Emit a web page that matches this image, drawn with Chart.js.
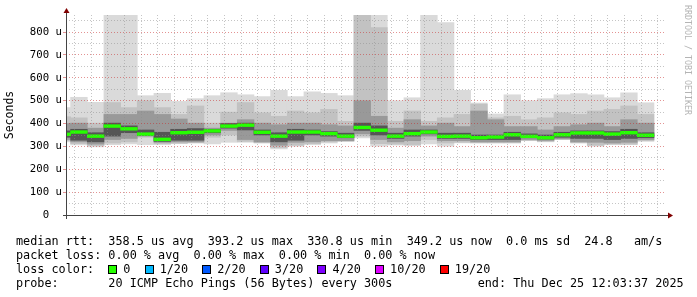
<!DOCTYPE html>
<html>
<head>
<meta charset="utf-8">
<script src="https://cdn.jsdelivr.net/npm/chart.js@4.4.1/dist/chart.umd.min.js"></script>
<style>
  html, body { margin: 0; padding: 0; background: #fff; }
  #wrap { position: relative; width: 697px; height: 297px; overflow: hidden; background: #fff; }
  #chart { position: absolute; left: 0; top: 0; }
  .legend { position: absolute; left: 16px; top: 234px; font-family: "DejaVu Sans Mono", monospace; font-size: 11.8px; line-height: 14px; white-space: pre; color: #000; }
  .sq { display: inline-block; width: 7px; height: 7px; border: 1px solid #000; margin-right: 6px; vertical-align: -1px; }
  .lc { margin-right: 14.2px; }
  #mark { position: absolute; left: 683px; top: 5px; writing-mode: vertical-rl; font-family: "DejaVu Sans Mono", monospace; font-size: 8.3px; color: #b4b4b4; }
</style>
</head>
<body>
<div id="wrap">
  <canvas id="chart" width="697" height="235"></canvas>
  <div id="mark">RRDTOOL / TOBI OETIKER</div>
  <div class="legend" id="legend"></div>
</div>
<script>
// 5 minute slots, 20 pings each (values in microseconds)
const slotStart = ["09:00","09:05","09:10","09:15","09:20","09:25","09:30","09:35","09:40","09:45","09:50","09:55",
                   "10:00","10:05","10:10","10:15","10:20","10:25","10:30","10:35","10:40","10:45","10:50","10:55",
                   "11:00","11:05","11:10","11:15","11:20","11:25","11:30","11:35","11:40","11:45","11:50","11:55"];
const pingMedian  = [353,363,345,389,377,354,331,360,362,368,389,393,362,345,363,363,356,345,383,371,345,356,363,344,345,338,341,351,344,338,351,359,359,354,360,349];
const pingMax     = [470,515,493,876,876,522,532,497,509,522,535,526,518,545,518,539,532,522,876,876,500,513,876,842,545,490,442,526,500,509,526,531,526,513,535,491];
const band2Top    = [430,425,402,492,470,500,470,440,477,402,450,492,447,432,455,447,462,410,876,820,410,455,410,425,440,485,425,432,417,425,447,440,455,462,477,440];
const band3Top    = [400,402,380,440,440,455,440,420,402,380,402,417,402,395,402,402,395,390,500,432,380,417,390,402,387,455,417,387,387,372,387,395,402,387,417,402];
const coreTop     = [368,375,360,402,390,372,362,375,378,375,400,402,372,360,375,372,365,358,402,390,358,372,372,358,358,350,350,362,355,350,362,368,368,365,375,360];
const coreBottom  = [340,327,320,345,360,348,322,327,327,360,380,372,350,320,327,350,345,338,370,350,335,345,355,335,335,330,330,330,338,332,340,335,335,330,335,338];
const band3Bottom = [330,320,310,330,335,345,318,320,320,350,370,330,320,305,318,320,325,325,355,330,320,325,345,325,325,320,320,320,330,326,333,320,318,315,318,330];
const band2Bottom = [325,312,304,315,320,340,312,314,316,340,350,322,316,295,305,312,320,323,345,312,310,308,330,315,318,316,316,316,326,322,331,316,305,310,310,325];
const pingMin     = [320,307,298,308,311,308,308,312,315,311,318,318,315,289,301,308,315,322,337,301,306,303,311,301,315,315,315,315,325,320,330,315,301,308,308,322];

const windowStart = "09:03:37";
const windowEnd = "12:03:37";
const yMax = 875;

const lossColors = ["#26ff00","#00b8ff","#0059ff","#5e00ff","#7e00ff","#dd00ff","#ff0000"];
const lossLabels = ["0","1/20","2/20","3/20","4/20","10/20","19/20"];

const MONO = "'DejaVu Sans Mono', monospace";
const GRID_MINOR = "rgba(140,140,140,0.5)";
const GRID_MAJOR = "rgba(200,40,40,0.5)";

// minutes after 09:00
function toMin(t) {
  const p = t.split(":").map(Number);
  return (p[0] - 9) * 60 + p[1] + (p[2] || 0) / 60;
}
function fmtMin(m) {
  const h = 9 + Math.floor(m / 60);
  return String(h).padStart(2, "0") + ":" + String(m % 60).padStart(2, "0");
}

function band(lo, hi, color) {
  return {
    data: slotStart.map((t, i) => ({ x: toMin(t) + 2.5, y: [lo[i], hi[i]] })),
    backgroundColor: color,
    borderWidth: 0,
    barPercentage: 1,
    categoryPercentage: 1,
    grouped: false,
    clip: 0
  };
}

const medianBand = band(pingMedian.map(v => v - 6), pingMedian.map(v => v + 6), lossColors[0]);

const axisArrows = {
  id: "axisArrows",
  afterDraw(chart) {
    const { ctx, chartArea: a } = chart;
    ctx.save();
    ctx.strokeStyle = "#444";
    ctx.lineWidth = 1;
    ctx.beginPath();
    ctx.moveTo(a.left + 0.5, a.bottom + 4);
    ctx.lineTo(a.left + 0.5, a.top - 3);
    ctx.moveTo(a.left - 3, a.bottom + 0.5);
    ctx.lineTo(a.right + 3, a.bottom + 0.5);
    ctx.stroke();
    ctx.fillStyle = "#800000";
    ctx.beginPath();
    ctx.moveTo(a.left + 0.5, a.top - 7);
    ctx.lineTo(a.left - 2.5, a.top - 2);
    ctx.lineTo(a.left + 3.5, a.top - 2);
    ctx.closePath();
    ctx.fill();
    ctx.beginPath();
    ctx.moveTo(a.right + 7, a.bottom + 0.5);
    ctx.lineTo(a.right + 2, a.bottom - 2.5);
    ctx.lineTo(a.right + 2, a.bottom + 3.5);
    ctx.closePath();
    ctx.fill();
    ctx.restore();
  }
};

new Chart(document.getElementById("chart"), {
  type: "bar",
  data: {
    datasets: [
      medianBand,
      band(coreBottom, coreTop, "#555555"),
      band(band3Bottom, band3Top, "#999999"),
      band(band2Bottom, band2Top, "#c2c2c2"),
      band(pingMin, pingMax, "#dadada")
    ]
  },
  options: {
    responsive: false,
    animation: false,
    events: [],
    layout: { padding: { left: 0, top: 15, right: 31, bottom: 0 } },
    plugins: { legend: { display: false }, tooltip: { enabled: false } },
    scales: {
      x: {
        type: "linear",
        min: toMin(windowStart),
        max: toMin(windowEnd),
        offset: false,
        afterFit: s => { s.height = 20; },
        border: { display: false, dash: [1, 2] },
        grid: {
          z: 1,
          lineWidth: 1,
          tickLength: 3,
          color: c => (c.tick && c.tick.value % 20 === 0) ? GRID_MAJOR : GRID_MINOR,
          tickColor: c => (c.tick && c.tick.value % 20 === 0) ? GRID_MAJOR : "rgba(0,0,0,0)"
        },
        ticks: {
          stepSize: 5,
          maxTicksLimit: 100,
          includeBounds: false,
          autoSkip: false,
          maxRotation: 0,
          padding: 1,
          color: "#000",
          font: { family: MONO, size: 10.7 },
          callback: v => v % 20 === 0 ? fmtMin(v) : ""
        }
      },
      y: {
        min: 0,
        max: yMax,
        afterFit: s => { s.width = 66; },
        border: { display: false, dash: [1, 2] },
        grid: {
          z: 1,
          lineWidth: 1,
          tickLength: 3,
          color: c => (c.tick && c.tick.value % 100 === 0) ? GRID_MAJOR : GRID_MINOR,
          tickColor: c => (c.tick && c.tick.value % 100 === 0) ? GRID_MAJOR : "rgba(0,0,0,0)"
        },
        ticks: {
          stepSize: 50,
          maxTicksLimit: 100,
          includeBounds: false,
          autoSkip: false,
          padding: 1,
          color: "#000",
          font: { family: MONO, size: 10.7 },
          callback: v => v % 100 === 0 ? (v === 0 ? "0  " : v + " u") : ""
        },
        title: {
          display: true,
          text: "Seconds",
          color: "#000",
          font: { family: MONO, size: 11.5 },
          padding: { top: 3, bottom: 0 }
        }
      }
    }
  },
  plugins: [axisArrows]
});

// legend text under the graph
const legend = document.getElementById("legend");
let lossRow = "";
lossColors.forEach((c, i) => {
  lossRow += '<span class="sq" style="background:' + c + '"></span><span class="lc">' + lossLabels[i] + '</span>';
});
legend.innerHTML =
  "median rtt:  358.5 us avg  393.2 us max  330.8 us min  349.2 us now  0.0 ms sd  24.8   am/s\n" +
  "packet loss: 0.00 % avg  0.00 % max  0.00 % min  0.00 % now\n" +
  "loss color:  " + lossRow + "\n" +
  "probe:       20 ICMP Echo Pings (56 Bytes) every 300s            end: Thu Dec 25 12:03:37 2025";
</script>
</body>
</html>
